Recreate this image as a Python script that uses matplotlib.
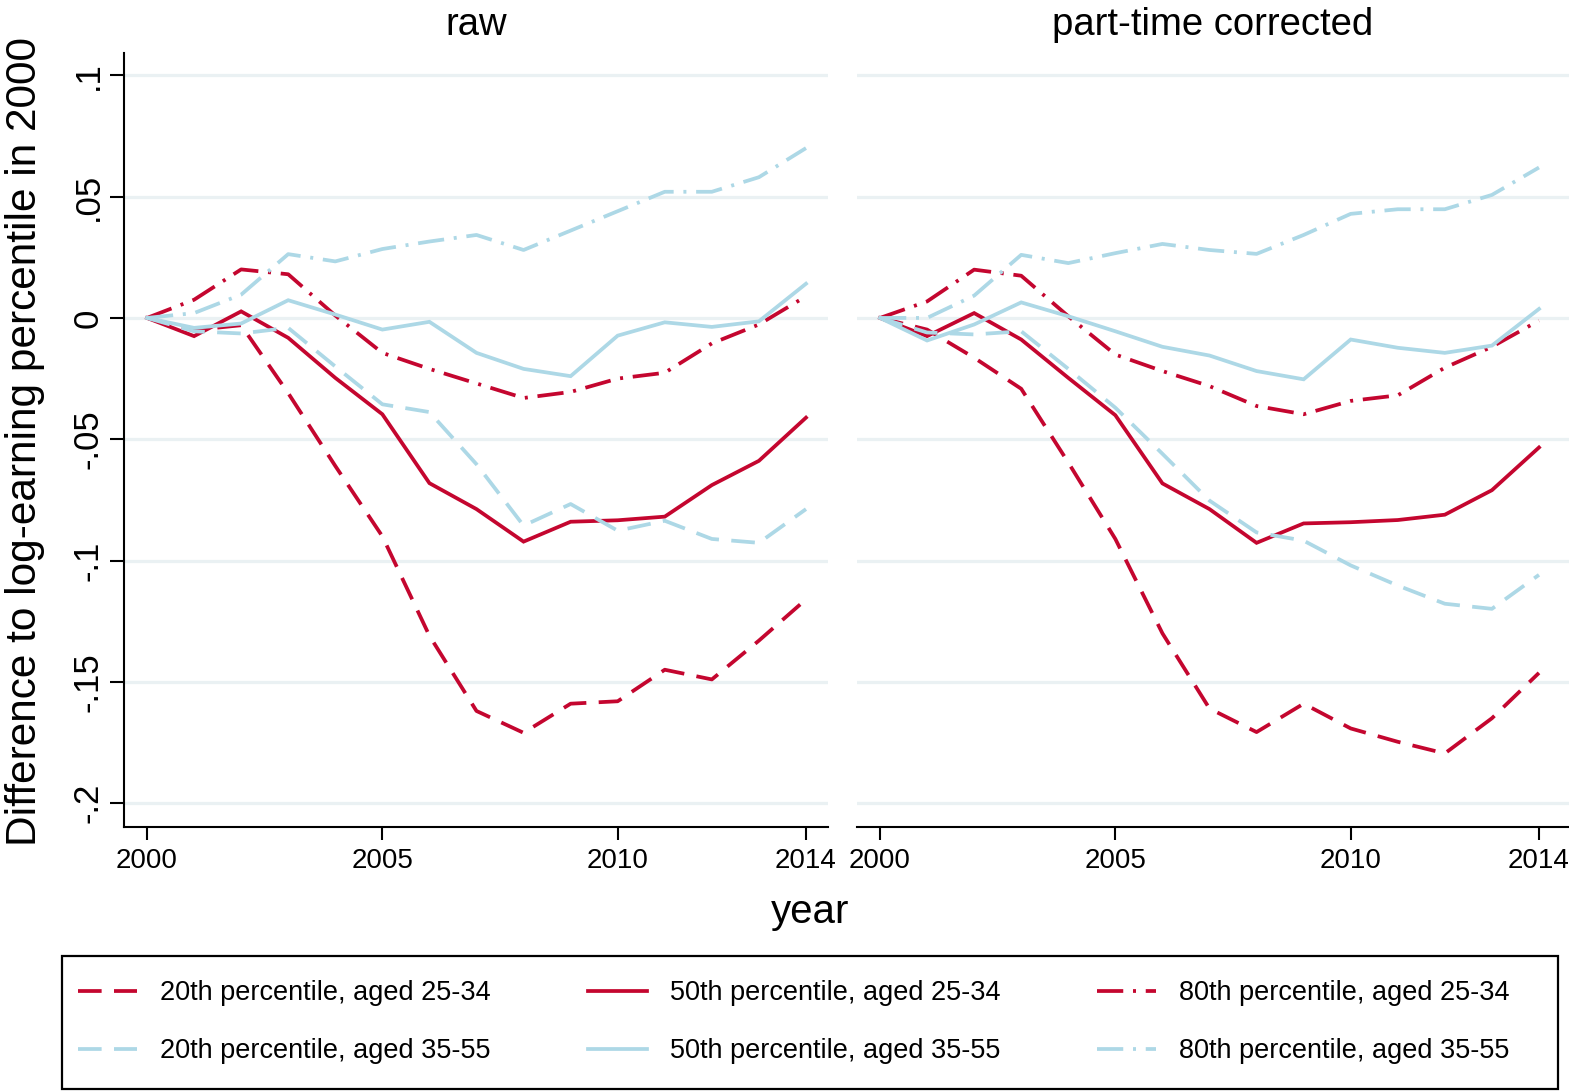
import matplotlib

matplotlib.use("Agg")

import matplotlib.pyplot as plt
from matplotlib.lines import Line2D
from matplotlib.patches import Rectangle

plt.rcParams["font.family"] = ["Liberation Sans", "DejaVu Sans"]

years = list(range(2000, 2015))

# raw
p20_young_raw = [0, -0.005, -0.003, -0.031, -0.061, -0.090, -0.131, -0.162, -0.171, -0.159, -0.158, -0.145, -0.149, -0.133, -0.116]
p50_young_raw = [0, -0.0075, 0.0027, -0.0082, -0.0247, -0.0397, -0.0681, -0.0788, -0.0922, -0.084, -0.0834, -0.0819, -0.0689, -0.0589, -0.0411]
p80_young_raw = [0, 0.0075, 0.020, 0.018, 0.001, -0.0144, -0.021, -0.027, -0.033, -0.0305, -0.025, -0.0226, -0.0105, -0.0027, 0.0089]
p20_old_raw = [0, -0.0055, -0.0064, -0.0041, -0.020, -0.0356, -0.0388, -0.0603, -0.0856, -0.0767, -0.0877, -0.0836, -0.0911, -0.0927, -0.0788]
p50_old_raw = [0, -0.0041, -0.0023, 0.0073, 0.0014, -0.0048, -0.0016, -0.0144, -0.021, -0.024, -0.0073, -0.0018, -0.0037, -0.0014, 0.0141]
p80_old_raw = [0, 0.002, 0.0096, 0.0263, 0.0233, 0.0284, 0.0315, 0.0342, 0.028, 0.036, 0.044, 0.052, 0.052, 0.058, 0.070]

# part-time corrected
p20_young_pt = [0, -0.0048, -0.0164, -0.0292, -0.0596, -0.0911, -0.130, -0.161, -0.1707, -0.159, -0.1692, -0.1747, -0.1795, -0.165, -0.1463]
p50_young_pt = [0, -0.0075, 0.002, -0.0089, -0.0247, -0.0401, -0.0682, -0.0788, -0.0927, -0.0847, -0.0842, -0.0833, -0.0811, -0.071, -0.0534]
p80_young_pt = [0, 0.0068, 0.0199, 0.0174, 0.0007, -0.0151, -0.0219, -0.0281, -0.0363, -0.0397, -0.0342, -0.0319, -0.0205, -0.0119, -0.0011]
p20_old_pt = [0, -0.006, -0.0068, -0.0055, -0.021, -0.037, -0.056, -0.0753, -0.0884, -0.0918, -0.102, -0.1103, -0.1178, -0.1199, -0.1059]
p50_old_pt = [0, -0.0093, -0.0027, 0.0064, 0.0007, -0.0055, -0.0119, -0.0155, -0.0219, -0.0253, -0.0089, -0.0123, -0.0144, -0.0114, 0.0037]
p80_old_pt = [0, 0.0, 0.0092, 0.026, 0.0226, 0.0267, 0.0305, 0.028, 0.0264, 0.0342, 0.0429, 0.0448, 0.0448, 0.0507, 0.062]

panel_titles = ["raw", "part-time corrected"]
yticks = [0.1, 0.05, 0, -0.05, -0.1, -0.15, -0.2]
ytick_labels = [".1", ".05", "0", "-.05", "-.1", "-.15", "-.2"]
xticks = [2000, 2005, 2010, 2014]

RED = "#C4062F"
BLUE = "#ADD8E6"
GRID = "#EAF1F3"
LW = 2.7
DASH = (0, (6.3, 3.3))
DASHDOT = (0, (7.0, 2.6, 0.8, 2.6))

series = [
    ("20th percentile, aged 25-34", RED, DASH, p20_young_raw, p20_young_pt),
    ("50th percentile, aged 25-34", RED, "-", p50_young_raw, p50_young_pt),
    ("80th percentile, aged 25-34", RED, DASHDOT, p80_young_raw, p80_young_pt),
    ("20th percentile, aged 35-55", BLUE, DASH, p20_old_raw, p20_old_pt),
    ("50th percentile, aged 35-55", BLUE, "-", p50_old_raw, p50_old_pt),
    ("80th percentile, aged 35-55", BLUE, DASHDOT, p80_old_raw, p80_old_pt),
]

W, H = 1569, 1091
fig = plt.figure(figsize=(W / 100, H / 100), dpi=100)

ax_top = 1 - 53 / H
ax_bot = 1 - 826.7 / H
px_per_year = 47.07
for i, (x0, x1) in enumerate([(124, 828), (857, 1569)]):
    ax = fig.add_axes([x0 / W, ax_bot, (x1 - x0) / W, ax_top - ax_bot])
    ax.set_xlim(2000 - 23 / px_per_year, 2000 - 23 / px_per_year + (x1 - x0) / px_per_year)
    ax.set_ylim(-0.2097, 0.1092)
    for y in yticks:
        ax.axhline(y, color=GRID, lw=2.3, zorder=0)
    for label, color, ls, raw, pt in series:
        vals = raw if i == 0 else pt
        ax.plot(years, vals, color=color, ls=ls, lw=LW, solid_joinstyle="miter")
    for side in ["top", "right"]:
        ax.spines[side].set_visible(False)
    ax.spines["bottom"].set_linewidth(1.5)
    ax.spines["left"].set_linewidth(1.5)
    ax.set_xticks(xticks)
    ax.set_xticklabels([str(t) for t in xticks])
    ax.tick_params(axis="x", length=9, width=1.5, labelsize=20, pad=6.5)
    ax.set_yticks(yticks)
    if i == 0:
        ax.set_yticklabels(ytick_labels, rotation=90, va="center")
        ax.tick_params(axis="y", length=10, width=1.5, labelsize=25, pad=4)
    else:
        ax.spines["left"].set_visible(False)
        ax.tick_params(axis="y", left=False, labelleft=False)
    ax.set_title(panel_titles[i], fontsize=27.5, pad=13)

fig.text(25 / W, 1 - 442 / H, "Difference to log-earning percentile in 2000",
         rotation=90, ha="center", va="center", fontsize=30.5)
fig.text(810 / W, 1 - 912 / H, "year", ha="center", va="center", fontsize=29)

# legend frame
fig.patches.append(Rectangle((62 / W, 1 - 1089 / H), (1558 - 62) / W, (1089 - 955.7) / H,
                             transform=fig.transFigure, fill=False, edgecolor="black", lw=1.6))

# legend, filled column-wise: young/old per column
handles = []
labels = []
for k in [0, 3, 1, 4, 2, 5]:
    label, color, ls, _, _ = series[k]
    handles.append(Line2D([], [], color=color, ls=ls, lw=LW))
    labels.append(label)

fig.legend(handles, labels, loc="upper left", bbox_to_anchor=(78 / W, 1 - 980 / H),
           ncol=3, fontsize=19.5, frameon=False,
           handlelength=2.18, handletextpad=0.85, labelspacing=1.2,
           columnspacing=3.58, borderaxespad=0, borderpad=0)

fig.savefig("out.png", dpi=100)
